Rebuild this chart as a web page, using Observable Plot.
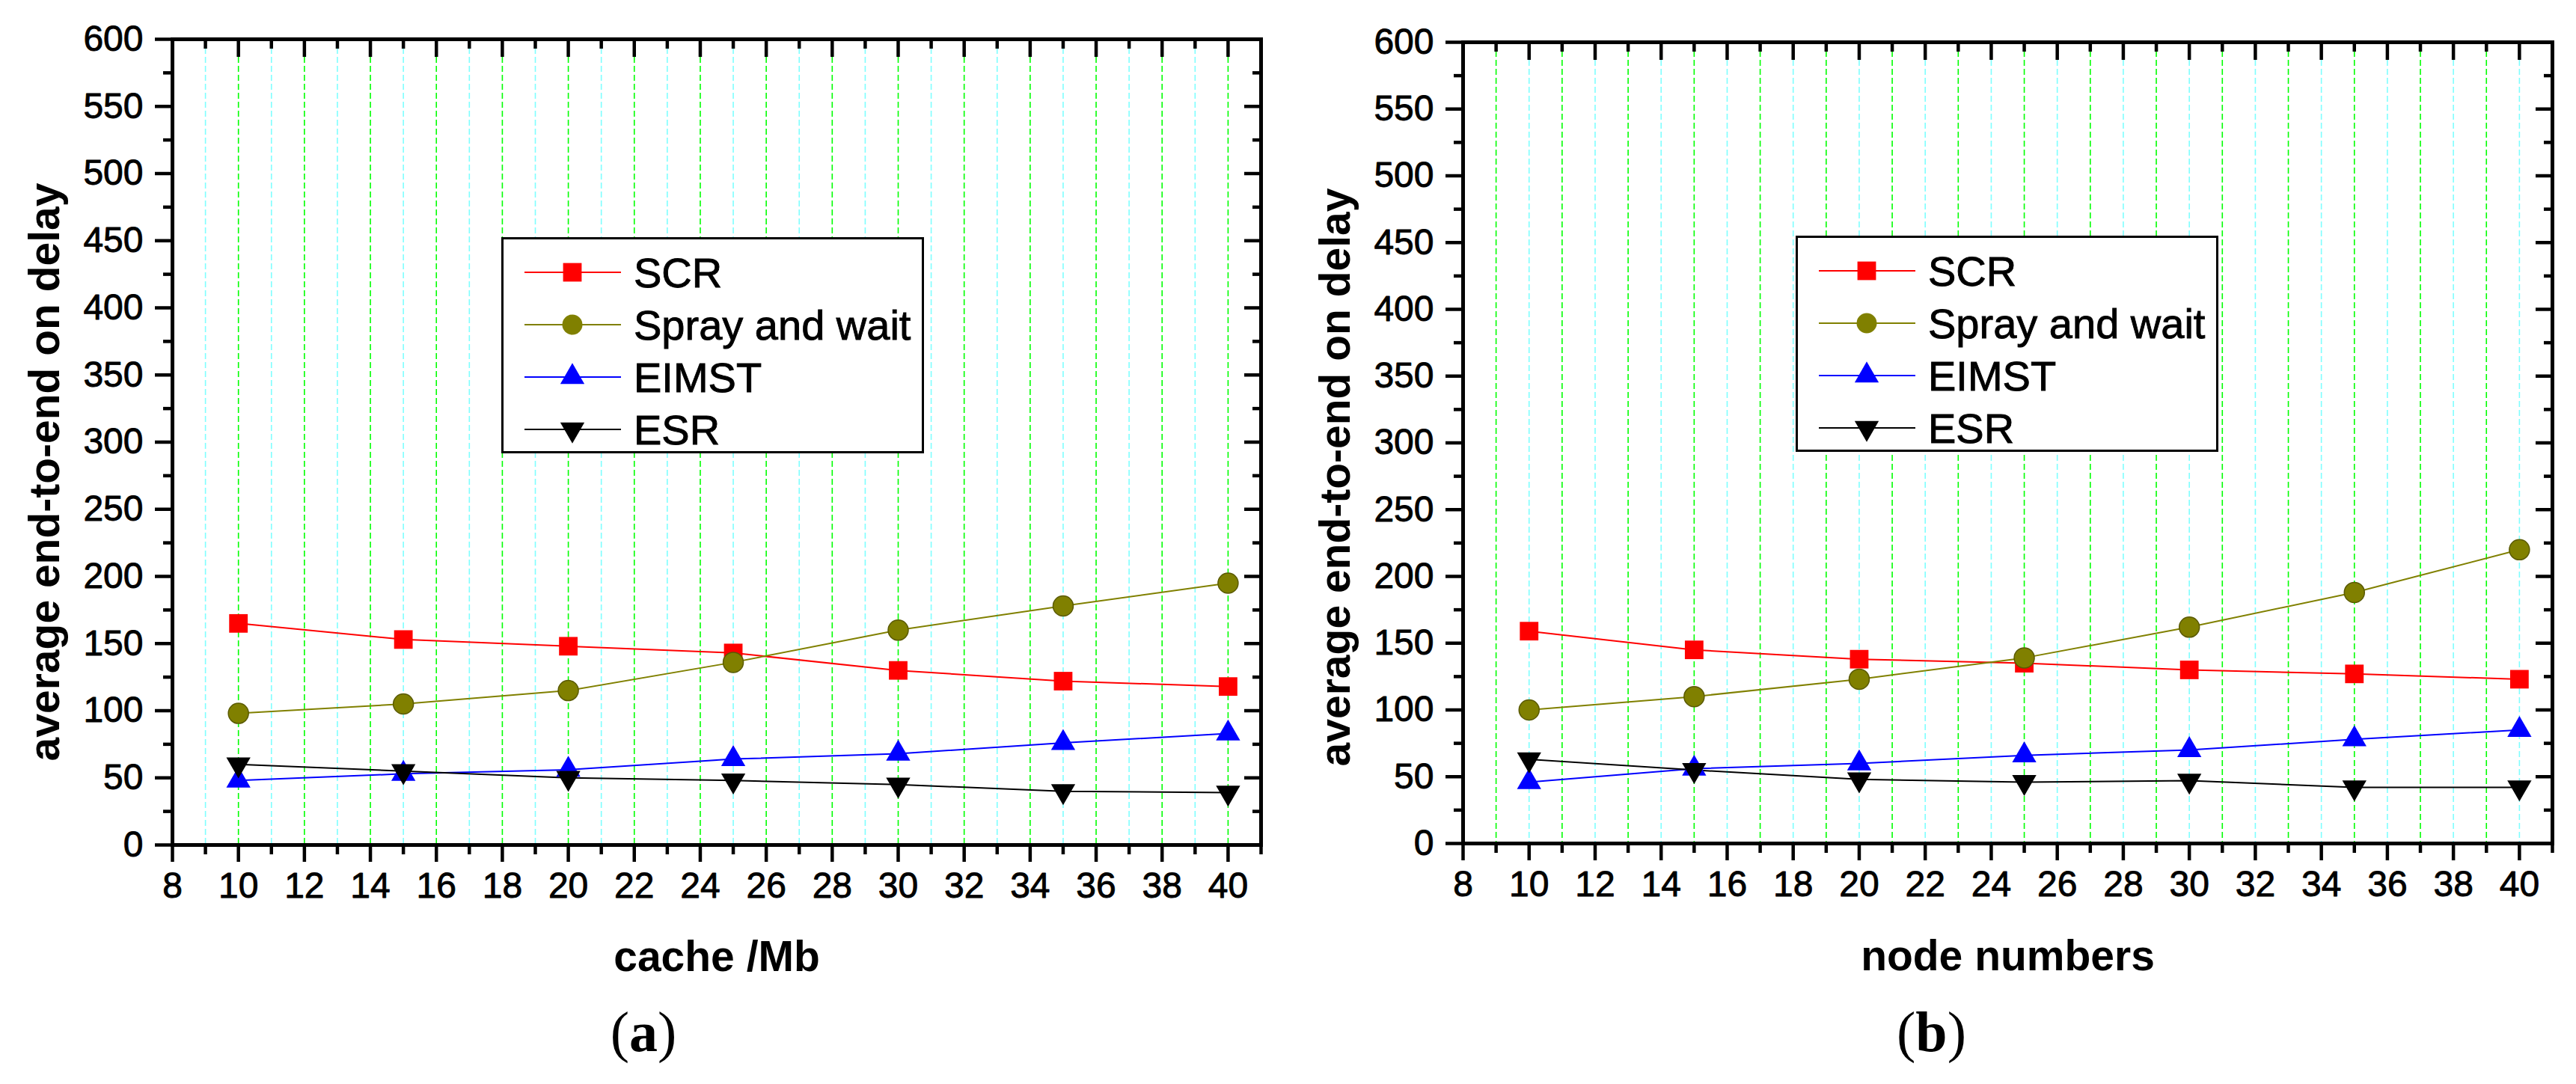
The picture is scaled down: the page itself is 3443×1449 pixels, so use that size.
<!DOCTYPE html>
<html>
<head>
<meta charset="utf-8">
<script src="https://cdn.jsdelivr.net/npm/d3@7"></script>
<script src="https://cdn.jsdelivr.net/npm/@observablehq/plot@0.6"></script>
<style>
html, body { margin: 0; padding: 0; background: #fff; }
#fig { position: relative; width: 3443px; height: 1449px; background: #fff; overflow: hidden; font-family: "Liberation Sans", Arial, sans-serif; }
.panel { position: absolute; top: 0; }
.legend { position: absolute; background: #fff; border: 3px solid #000; box-sizing: border-box; }
.legend svg { position: absolute; left: 0; top: 0; overflow: visible; }
.cap { position: absolute; top: 1341px; text-align: center; font-family: "Liberation Serif", "Times New Roman", serif; font-size: 76px; line-height: 1; color: #000; }
</style>
</head>
<body>
<div id="fig"></div>
<script>
// ---- data ----
const xValues = [10, 15, 20, 25, 30, 35, 40];
const seriesNames = ["SCR", "Spray and wait", "EIMST", "ESR"];
const seriesColors = ["#FF0000", "#808000", "#0000FF", "#000000"];

// panel (a): cache /Mb
const aSCR   = [165, 153, 148, 143, 130, 122, 118];
const aSpray = [98, 105, 115, 136, 160, 178, 195];
const aEIMST = [48, 53, 56, 64, 68, 76, 83];
const aESR   = [60, 55, 50, 48, 45, 40, 39];

// panel (b): node numbers
const bSCR   = [159, 145, 138, 135, 130, 127, 123];
const bSpray = [100, 110, 123, 139, 162, 188, 220];
const bEIMST = [46, 56, 60, 66, 70, 78, 85];
const bESR   = [63, 55, 48, 46, 47, 42, 42];

const xMajorTicks = [8, 10, 12, 14, 16, 18, 20, 22, 24, 26, 28, 30, 32, 34, 36, 38, 40];
const xMinorTicks = [9, 11, 13, 15, 17, 19, 21, 23, 25, 27, 29, 31, 33, 35, 37, 39, 41];
const yMajorTicks = [0, 50, 100, 150, 200, 250, 300, 350, 400, 450, 500, 550, 600];
const yMinorTicks = [25, 75, 125, 175, 225, 275, 325, 375, 425, 475, 525, 575];
const gridEven = [10, 12, 14, 16, 18, 20, 22, 24, 26, 28, 30, 32, 34, 36, 38, 40];
const gridOdd  = [9, 11, 13, 15, 17, 19, 21, 23, 25, 27, 29, 31, 33, 35, 37, 39];

const yTitle = "average end-to-end on delay";

// ---- styling ----
const GREEN = "#00FF00";
const CYAN = "#7FFFFF";
const FONT = "'Liberation Sans', Arial, sans-serif";
const triangleDown = {
  draw(ctx, size) {
    const y = Math.sqrt(size / (3 * Math.sqrt(3)));
    ctx.moveTo(0, 2 * y);
    ctx.lineTo(-Math.sqrt(3) * y, -y);
    ctx.lineTo(Math.sqrt(3) * y, -y);
    ctx.closePath();
  }
};
const seriesSymbols = ["square", "circle", "triangle", triangleDown];
const seriesR = [14, 13.5, 12, 12];
const seriesStroke = ["none", "#5a5a00", "none", "none"];

function makePanel(cfg) {
  const marks = [
    Plot.ruleX(cfg.greenGrid, {stroke: GREEN, strokeWidth: 1.6, strokeDasharray: "8,4"}),
    Plot.ruleX(cfg.cyanGrid, {stroke: CYAN, strokeWidth: 1.6, strokeDasharray: "8,4"})
  ];
  cfg.series.forEach((vals, i) => {
    const data = xValues.map((x, j) => ({x, y: vals[j]}));
    marks.push(Plot.line(data, {x: "x", y: "y", stroke: seriesColors[i], strokeWidth: 2}));
  });
  cfg.series.forEach((vals, i) => {
    const data = xValues.map((x, j) => ({x, y: vals[j]}));
    marks.push(Plot.dot(data, {x: "x", y: "y", symbol: seriesSymbols[i], r: seriesR[i], fill: seriesColors[i], stroke: seriesStroke[i], strokeWidth: 1.5}));
  });
  marks.push(
    Plot.frame({stroke: "#000", strokeWidth: 5}),
    Plot.axisX({ticks: xMajorTicks, anchor: "bottom", tickSize: 23, tickPadding: 13, fontSize: 48, textStroke: "#000", textStrokeWidth: 0.9, strokeWidth: 4.5, label: null}),
    Plot.axisX({ticks: xMinorTicks, anchor: "bottom", tickSize: 13, strokeWidth: 4.5, fill: "none", label: null}),
    Plot.axisX({ticks: xMajorTicks, anchor: "top", tickSize: 23, insetTop: 23, strokeWidth: 4.5, fill: "none", label: null}),
    Plot.axisX({ticks: xMinorTicks.filter(d => d < 41), anchor: "top", tickSize: 12, insetTop: 12, strokeWidth: 4.5, fill: "none", label: null}),
    Plot.axisY({ticks: yMajorTicks, anchor: "left", tickSize: 23, tickPadding: 16, fontSize: 48, textStroke: "#000", textStrokeWidth: 0.9, strokeWidth: 4.5, label: null}),
    Plot.axisY({ticks: yMinorTicks, anchor: "left", tickSize: 12, strokeWidth: 4.5, fill: "none", label: null}),
    Plot.axisY({ticks: yMajorTicks, anchor: "right", tickSize: 23, insetRight: 23, strokeWidth: 4.5, fill: "none", label: null}),
    Plot.axisY({ticks: yMinorTicks, anchor: "right", tickSize: 12, insetRight: 12, strokeWidth: 4.5, fill: "none", label: null}),
    Plot.text([cfg.xTitle], {frameAnchor: "bottom", textAnchor: "middle", dy: cfg.xTitleDy, lineAnchor: "bottom", fontSize: 57, fontWeight: "bold"}),
    Plot.text([yTitle], {frameAnchor: "left", textAnchor: "middle", rotate: -90, dx: -152, dy: cfg.yTitleDy, lineAnchor: "bottom", fontSize: 57, fontWeight: "bold"})
  );
  return Plot.plot({
    width: cfg.width,
    height: cfg.height,
    marginLeft: cfg.marginLeft,
    marginRight: cfg.marginRight,
    marginTop: cfg.marginTop,
    marginBottom: cfg.marginBottom,
    x: {domain: [8, 41]},
    y: {domain: [0, 600]},
    style: {fontFamily: FONT, color: "#000", background: "transparent", overflow: "visible"},
    marks
  });
}

function makeLegend(left, top) {
  const div = document.createElement("div");
  div.className = "legend";
  Object.assign(div.style, {left: left + "px", top: top + "px", width: "565px", height: "289px"});
  const svg = d3.create("svg").attr("width", 559).attr("height", 283);
  seriesNames.forEach((name, i) => {
    const cy = 44 + i * 70;
    const g = svg.append("g");
    g.append("line").attr("x1", 28).attr("x2", 157).attr("y1", cy).attr("y2", cy)
      .attr("stroke", seriesColors[i]).attr("stroke-width", 2);
    const symType = [d3.symbolSquare, d3.symbolCircle, d3.symbolTriangle, triangleDown][i];
    g.append("path").attr("d", d3.symbol(symType, Math.PI * seriesR[i] * seriesR[i])())
      .attr("transform", `translate(92,${cy})`).attr("fill", seriesColors[i]);
    g.append("text").attr("x", 174).attr("y", cy + 20).text(name)
      .attr("font-family", FONT).attr("font-size", 56).attr("fill", "#000")
      .attr("stroke", "#000").attr("stroke-width", 0.9);
  });
  div.appendChild(svg.node());
  return div;
}

const fig = document.getElementById("fig");

const pa = makePanel({
  series: [aSCR, aSpray, aEIMST, aESR], xTitle: "cache /Mb",
  greenGrid: gridEven, cyanGrid: gridOdd,
  width: 1720, height: 1330, marginLeft: 230, marginRight: 35, marginTop: 52, marginBottom: 201,
  xTitleDy: 168, yTitleDy: 40
});
const wa = document.createElement("div"); wa.className = "panel"; wa.style.left = "0px"; wa.appendChild(pa); fig.appendChild(wa);

const pb = makePanel({
  series: [bSCR, bSpray, bEIMST, bESR], xTitle: "node numbers",
  greenGrid: gridOdd, cyanGrid: gridEven,
  width: 1723, height: 1330, marginLeft: 235, marginRight: 32, marginTop: 56, marginBottom: 203,
  xTitleDy: 169, yTitleDy: 46
});
const wb = document.createElement("div"); wb.className = "panel"; wb.style.left = "1720px"; wb.appendChild(pb); fig.appendChild(wb);

fig.appendChild(makeLegend(670, 317));
fig.appendChild(makeLegend(2400, 315));

const ca = document.createElement("div"); ca.className = "cap"; ca.style.left = "0px"; ca.style.width = "1720px";
ca.innerHTML = "(<b>a</b>)"; fig.appendChild(ca);
const cb = document.createElement("div"); cb.className = "cap"; cb.style.left = "1720px"; cb.style.width = "1723px";
cb.innerHTML = "(<b>b</b>)"; fig.appendChild(cb);
</script>
</body>
</html>
